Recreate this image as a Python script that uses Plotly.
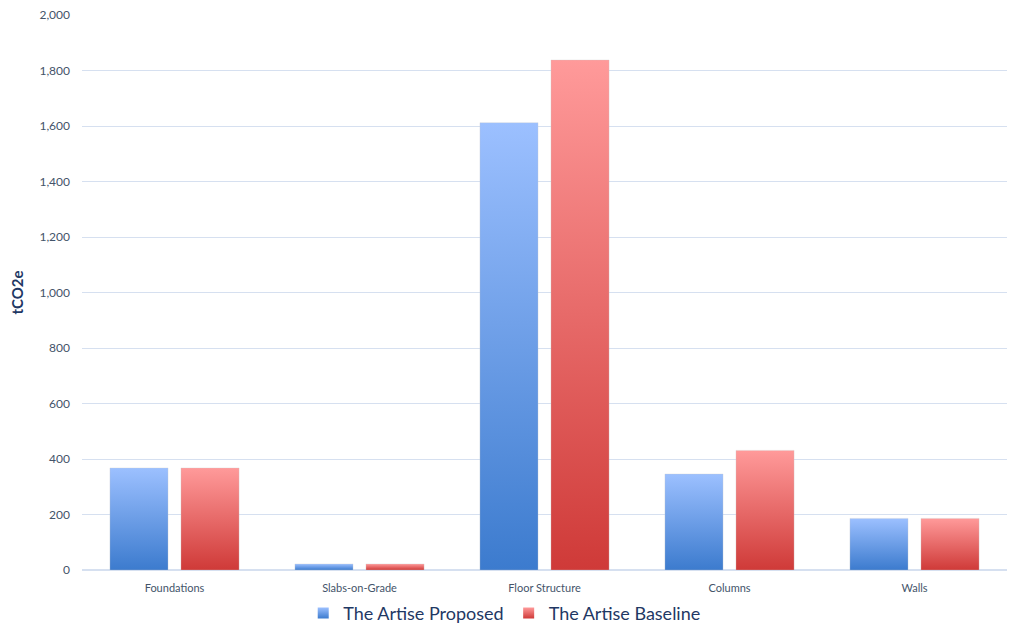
import plotly.graph_objects as go

# Embodied carbon by structural element
categories = ["Foundations", "Slabs-on-Grade", "Floor Structure", "Columns", "Walls"]
proposed = [368, 22, 1612, 346, 186]
baseline = [368, 22, 1838, 431, 186]

series = [
    ("The Artise Proposed", proposed, "#3C7BCE", "#9CC0FF", -1),
    ("The Artise Baseline", baseline, "#CF3A38", "#FF9A9A", 1),
]

slot = 0.192      # offset of each bar centre from its category
half = 0.157      # half bar width in category units

fig = go.Figure()
for name, values, dark, light, side in series:
    for i, (cat, v) in enumerate(zip(categories, values)):
        c = i + side * slot
        fig.add_trace(go.Scatter(
            x=[c - half, c - half, c + half, c + half, c - half],
            y=[0, v, v, 0, 0],
            mode="lines",
            line=dict(width=0.6, color="rgba(205,205,205,0.5)"),
            fill="toself",
            fillgradient=dict(type="vertical", colorscale=[[0, dark], [1, light]]),
            name=name,
            legendgroup=name,
            showlegend=False,
            hoverinfo="text",
            hovertext=f"{cat}: {v}",
        ))
    # legend key: small gradient square
    fig.add_trace(go.Scatter(
        x=[None], y=[None], mode="markers", name=name, legendgroup=name,
        marker=dict(symbol="square", size=11, color=light,
                    gradient=dict(type="vertical", color=dark)),
        showlegend=True,
    ))

fig.update_layout(
    width=1013, height=629,
    margin=dict(l=82, r=6, t=15, b=59, autoexpand=False),
    paper_bgcolor="white", plot_bgcolor="white",
    font=dict(family="Lato, Open Sans, sans-serif", color="#44546A", size=11),
    showlegend=True,
    legend=dict(
        orientation="h", x=0.457, xanchor="center",
        y=-0.078, yanchor="middle",
        font=dict(size=18, color="#1F3864"), itemwidth=30, traceorder="normal",
    ),
    xaxis=dict(
        range=[-0.5, 4.5], tickvals=list(range(len(categories))), ticktext=categories,
        showgrid=False, zeroline=False, showline=False, ticks="",
        tickfont=dict(size=11, color="#44546A"), ticklabelstandoff=10,
    ),
    yaxis=dict(
        range=[0, 2000], dtick=200, tickformat=",", showgrid=True,
        gridcolor="#D6E0F0", gridwidth=1, zeroline=True, zerolinecolor="#D6E0F0",
        showline=False, ticks="", ticklen=0,
        tickfont=dict(size=12, color="#44546A"), ticklabelstandoff=11,
        title=dict(text="<b>tCO2e</b>", font=dict(size=15, color="#1F3864"), standoff=12),
    ),
)

fig.write_html("out.html")
